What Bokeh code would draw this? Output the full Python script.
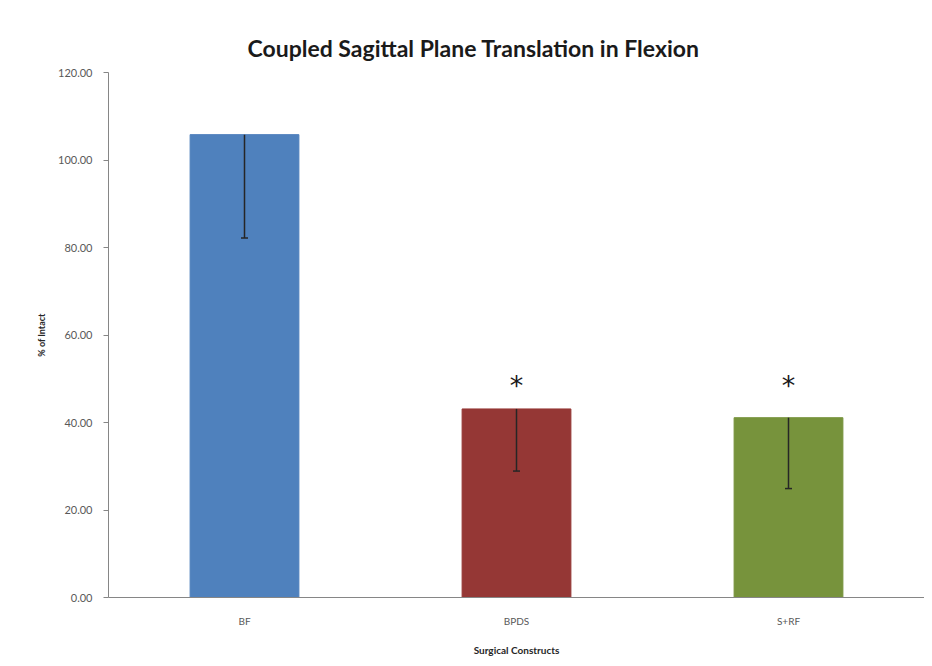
from bokeh.plotting import figure
from bokeh.models import ColumnDataSource, Whisker, TeeHead, Range1d, FactorRange, FixedTicker, NumeralTickFormatter
from bokeh.core.properties import value
from bokeh.embed import file_html
from bokeh.resources import INLINE

# ---- data ----
constructs = ["BF", "BPDS", "S+RF"]
pct_intact = [105.8, 43.1, 41.1]
err_lower = [82.2, 28.9, 24.9]
bar_colors = ["#4F81BD", "#953735", "#77933C"]
significance = ["", "*", "*"]
y_ticks = [0, 20, 40, 60, 80, 100, 120]
star_level = 48.4

src = ColumnDataSource(dict(cat=constructs, val=pct_intact, low=err_lower,
                            color=bar_colors, sig=significance,
                            star=[star_level] * len(constructs)))

FONT = "Lato"

p = figure(width=924, height=658, output_backend="svg", toolbar_location=None,
           x_range=FactorRange(*constructs, range_padding=0),
           y_range=Range1d(0, 120),
           min_border_left=108, min_border_right=0, min_border_top=72, min_border_bottom=61)
p.outline_line_color = None
p.xgrid.grid_line_color = None
p.ygrid.grid_line_color = None
p.background_fill_color = "white"
p.border_fill_color = "white"

p.vbar(x="cat", top="val", width=0.4, source=src, fill_color="color", line_color="color")

w = Whisker(base="cat", upper="val", lower="low", source=src,
            line_color="#262626", line_width=1.5, upper_head=None,
            lower_head=TeeHead(size=7, line_color="#262626", line_width=1.5),
            level="overlay")
p.add_layout(w)

p.text(x="cat", y="star", text="sig", source=src, text_align="center", text_baseline="middle",
       text_font=value("DejaVu Sans"), text_font_size="27px", text_color="#1a1a1a")

# title
p.title.text = "Coupled Sagittal Plane Translation in Flexion"
p.title.align = "left"
p.title.offset = 139
p.title.text_font = FONT
p.title.text_font_style = "bold"
p.title.text_font_size = "23px"
p.title.text_color = "#1a1a1a"
p.title.standoff = 22

# y axis
p.yaxis.ticker = FixedTicker(ticks=y_ticks)
p.yaxis.formatter = NumeralTickFormatter(format="0.00")
p.yaxis.axis_line_color = "#868686"
p.yaxis.major_tick_line_color = "#868686"
p.yaxis.major_tick_out = 5
p.yaxis.major_tick_in = 0
p.yaxis.minor_tick_line_color = None
p.yaxis.major_label_text_font = FONT
p.yaxis.major_label_text_font_size = "11px"
p.yaxis.major_label_text_color = "#595959"
p.yaxis.major_label_standoff = 11
p.yaxis.axis_label = "% of Intact"
p.yaxis.axis_label_text_font = FONT
p.yaxis.axis_label_text_font_size = "9px"
p.yaxis.axis_label_text_font_style = "bold"
p.yaxis.axis_label_text_color = "#262626"
p.yaxis.axis_label_standoff = 8

# x axis
p.xaxis.axis_line_color = "#868686"
p.xaxis.major_tick_line_color = None
p.xaxis.minor_tick_line_color = None
p.xaxis.major_label_text_font = FONT
p.xaxis.major_label_text_font_size = "10px"
p.xaxis.major_label_text_color = "#595959"
p.xaxis.major_label_standoff = 11
p.xaxis.axis_label = "Surgical Constructs"
p.xaxis.axis_label_text_font = FONT
p.xaxis.axis_label_text_font_size = "10px"
p.xaxis.axis_label_text_font_style = "bold"
p.xaxis.axis_label_text_color = "#262626"
p.xaxis.axis_label_standoff = 14

open("out.html", "w").write(file_html(p, INLINE))
